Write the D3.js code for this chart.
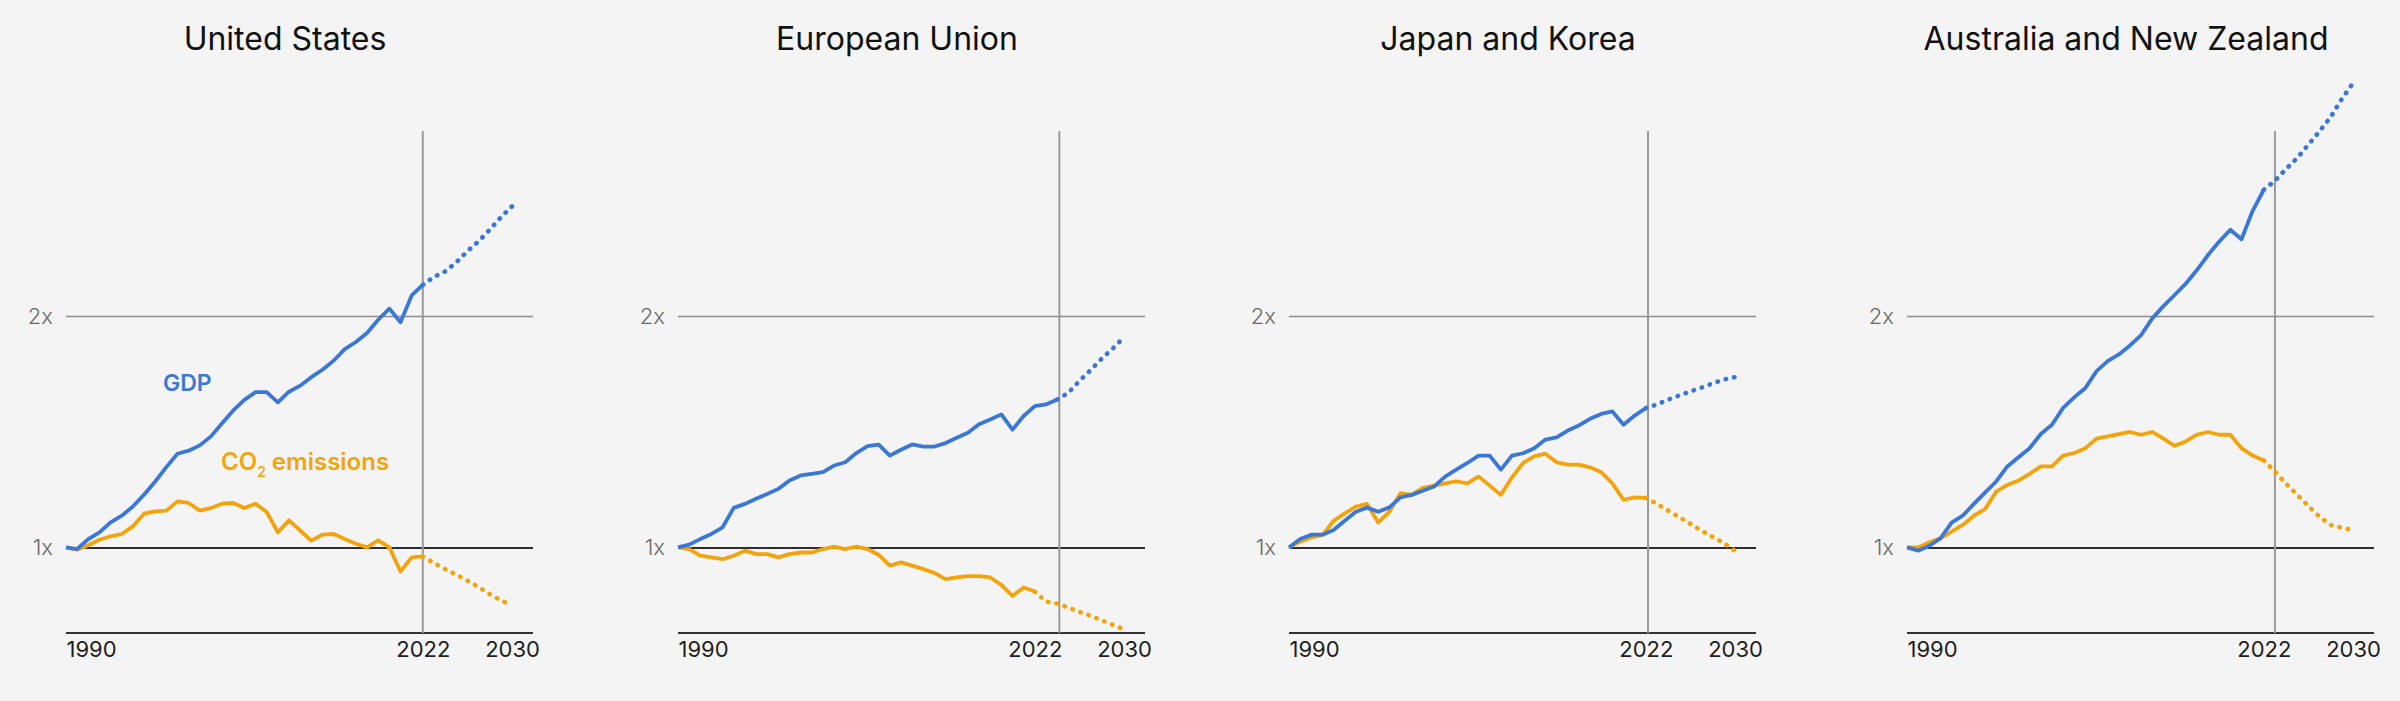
<!DOCTYPE html>
<html lang="en">
<head>
<meta charset="UTF-8">
<title>GDP and CO2 emissions</title>
<script src="https://d3js.org/d3.v7.min.js"></script>
<style>
  body { margin: 0; background: #f4f4f4; }
  svg { display: block; }
  text { font-family: Inter, "Noto Sans", sans-serif; }
</style>
</head>
<body>
<script>
// values indexed 1990..2030, relative to 1990 (1 = 1x)
var regions = ["United States", "European Union", "Japan and Korea", "Australia and New Zealand"];
var years = d3.range(1990, 2031);

var usGdp = [1.00, 0.993, 1.036, 1.065, 1.108, 1.137, 1.177, 1.228, 1.285, 1.347, 1.405, 1.418, 1.441, 1.480, 1.537, 1.592, 1.638, 1.671, 1.671, 1.627, 1.673, 1.699, 1.736, 1.768, 1.807, 1.857, 1.888, 1.927, 1.984, 2.032, 1.973, 2.089, 2.135, 2.169, 2.193, 2.232, 2.280, 2.323, 2.373, 2.427, 2.474];
var usCo2 = [1.00, 0.990, 1.009, 1.033, 1.048, 1.058, 1.091, 1.146, 1.156, 1.159, 1.199, 1.192, 1.159, 1.170, 1.189, 1.192, 1.170, 1.189, 1.153, 1.065, 1.117, 1.073, 1.029, 1.055, 1.058, 1.036, 1.016, 1.000, 1.030, 1.000, 0.896, 0.957, 0.961, 0.932, 0.906, 0.882, 0.856, 0.829, 0.798, 0.771, 0.749];
var euGdp = [1.00, 1.012, 1.036, 1.058, 1.087, 1.171, 1.188, 1.210, 1.231, 1.253, 1.289, 1.311, 1.318, 1.325, 1.354, 1.368, 1.408, 1.438, 1.444, 1.397, 1.422, 1.445, 1.436, 1.436, 1.451, 1.474, 1.496, 1.532, 1.553, 1.575, 1.509, 1.568, 1.611, 1.618, 1.639, 1.668, 1.720, 1.766, 1.816, 1.860, 1.908];
var euCo2 = [1.00, 0.993, 0.964, 0.957, 0.949, 0.964, 0.986, 0.971, 0.971, 0.957, 0.971, 0.978, 0.978, 0.993, 1.003, 0.993, 1.003, 0.993, 0.968, 0.921, 0.935, 0.921, 0.906, 0.890, 0.863, 0.870, 0.876, 0.876, 0.870, 0.838, 0.790, 0.827, 0.809, 0.766, 0.757, 0.740, 0.721, 0.705, 0.685, 0.665, 0.646];
var jkGdp = [1.00, 1.036, 1.055, 1.055, 1.075, 1.115, 1.154, 1.172, 1.154, 1.173, 1.216, 1.227, 1.245, 1.263, 1.306, 1.336, 1.365, 1.397, 1.397, 1.336, 1.397, 1.407, 1.429, 1.466, 1.476, 1.505, 1.527, 1.556, 1.577, 1.588, 1.530, 1.570, 1.602, 1.618, 1.639, 1.657, 1.674, 1.691, 1.709, 1.726, 1.736];
var jkCo2 = [1.00, 1.025, 1.043, 1.053, 1.115, 1.147, 1.176, 1.188, 1.108, 1.154, 1.235, 1.227, 1.257, 1.267, 1.277, 1.286, 1.277, 1.307, 1.267, 1.227, 1.303, 1.365, 1.394, 1.405, 1.368, 1.358, 1.358, 1.346, 1.325, 1.277, 1.206, 1.216, 1.214, 1.188, 1.159, 1.131, 1.102, 1.072, 1.045, 1.019, 0.985];
var anzGdp = [1.00, 0.986, 1.007, 1.039, 1.107, 1.137, 1.188, 1.237, 1.285, 1.350, 1.390, 1.429, 1.490, 1.530, 1.603, 1.649, 1.689, 1.762, 1.805, 1.834, 1.873, 1.918, 1.990, 2.043, 2.091, 2.140, 2.199, 2.264, 2.322, 2.373, 2.332, 2.455, 2.546, 2.585, 2.636, 2.684, 2.741, 2.799, 2.860, 2.939, 3.007];
var anzCo2 = [1.00, 1.00, 1.022, 1.039, 1.068, 1.097, 1.137, 1.166, 1.241, 1.270, 1.289, 1.318, 1.350, 1.350, 1.397, 1.408, 1.429, 1.470, 1.480, 1.490, 1.499, 1.487, 1.499, 1.470, 1.439, 1.458, 1.487, 1.499, 1.487, 1.487, 1.429, 1.397, 1.376, 1.328, 1.275, 1.227, 1.179, 1.132, 1.097, 1.085, 1.075];

var gdpSeries = [usGdp, euGdp, jkGdp, anzGdp];
var co2Series = [usCo2, euCo2, jkCo2, anzCo2];
var gdpLastActual = [2022, 2024, 2022, 2022];   // solid line ends, dotted projection after
var co2LastActual = [2022, 2022, 2022, 2022];
var dividerYear = [2022, 2024.2, 2022.2, 2023];

var yTicks = [1, 2];
var xTicks = [1990, 2022, 2030];

var width = 2400, height = 701;
var blue = "#3b77d6", orange = "#f3a40c";
var panelLeft = [66, 678, 1289, 1907];
var spanW = 446, axisW = 467;

var svg = d3.select("body").append("svg").attr("width", width).attr("height", height);
svg.append("rect").attr("width", width).attr("height", height).attr("fill", "#f4f4f4");

var y = d3.scaleLinear().domain([0.63, 2.8]).range([633, 131]);

regions.forEach(function(name, i) {
  var x0 = panelLeft[i];
  var x = d3.scaleLinear().domain([1990, 2030]).range([x0, x0 + spanW]);
  var g = svg.append("g");

  g.append("text")
    .attr("x", x0 + 219).attr("y", 50)
    .attr("text-anchor", "middle")
    .attr("font-size", 32).attr("fill", "#111")
    .text(name);

  // horizontal gridlines 1x / 2x
  var yAxis = g.append("g")
    .attr("transform", "translate(" + x0 + ",0)")
    .call(d3.axisLeft(y).tickValues(yTicks).tickSize(-axisW).tickPadding(13)
      .tickFormat(function(d) { return d + "x"; }));
  yAxis.select(".domain").remove();
  yAxis.attr("font-family", null);
  yAxis.selectAll(".tick line")
    .attr("stroke", function(d) { return d === 1 ? "#2e2e2e" : "#8c8c8c"; })
    .attr("stroke-width", function(d) { return d === 1 ? 2 : 1.6; });
  yAxis.selectAll(".tick text")
    .attr("font-size", 22).attr("fill", "#6a6a6a")
    .attr("font-weight", 300);

  // baseline
  g.append("line")
    .attr("x1", x0).attr("x2", x0 + axisW)
    .attr("y1", y(0.63)).attr("y2", y(0.63))
    .attr("stroke", "#333").attr("stroke-width", 2.2);

  // divider between history and projection
  g.append("line")
    .attr("x1", x(dividerYear[i])).attr("x2", x(dividerYear[i]))
    .attr("y1", y(2.8)).attr("y2", y(0.63))
    .attr("stroke", "#9a9a9a").attr("stroke-width", 2);

  var xAxis = g.append("g")
    .attr("transform", "translate(0," + y(0.63) + ")")
    .call(d3.axisBottom(x).tickValues(xTicks).tickSize(0).tickPadding(8).tickFormat(d3.format("d")));
  xAxis.select(".domain").remove();
  xAxis.attr("font-family", null);
  xAxis.selectAll(".tick text")
    .attr("font-size", 22).attr("fill", "#1e1e1e")
    .attr("text-anchor", function(d) { return d === 1990 ? "start" : "middle"; });

  var line = d3.line()
    .x(function(d) { return x(d[0]); })
    .y(function(d) { return y(d[1]); });

  function drawSeries(vals, last, color) {
    var pts = years.map(function(yr, k) { return [yr, vals[k]]; });
    var hist = pts.filter(function(d) { return d[0] <= last; });
    var proj = pts.filter(function(d) { return d[0] >= last; });
    g.append("path").datum(hist).attr("d", line)
      .attr("fill", "none").attr("stroke", color)
      .attr("stroke-width", 3.8).attr("stroke-linejoin", "round");
    g.append("path").datum(proj).attr("d", line)
      .attr("fill", "none").attr("stroke", color)
      .attr("stroke-width", 4.6).attr("stroke-linecap", "round")
      .attr("stroke-dasharray", "0.5 8");
  }
  drawSeries(co2Series[i], co2LastActual[i], orange);
  drawSeries(gdpSeries[i], gdpLastActual[i], blue);

  if (i === 0) {
    g.append("text")
      .attr("x", x(1998.7)).attr("y", y(1.674))
      .attr("font-size", 23).attr("font-weight", 600).attr("fill", blue)
      .text("GDP");
    var co2 = g.append("text")
      .attr("x", x(2003.9)).attr("y", y(1.335))
      .attr("font-size", 24).attr("font-weight", 600).attr("fill", orange);
    co2.append("tspan").text("CO");
    co2.append("tspan").attr("dy", 7).attr("font-size", 14).text("2");
    co2.append("tspan").attr("dy", -7).attr("dx", 6).text("emissions");
  }
});
</script>
</body>
</html>
